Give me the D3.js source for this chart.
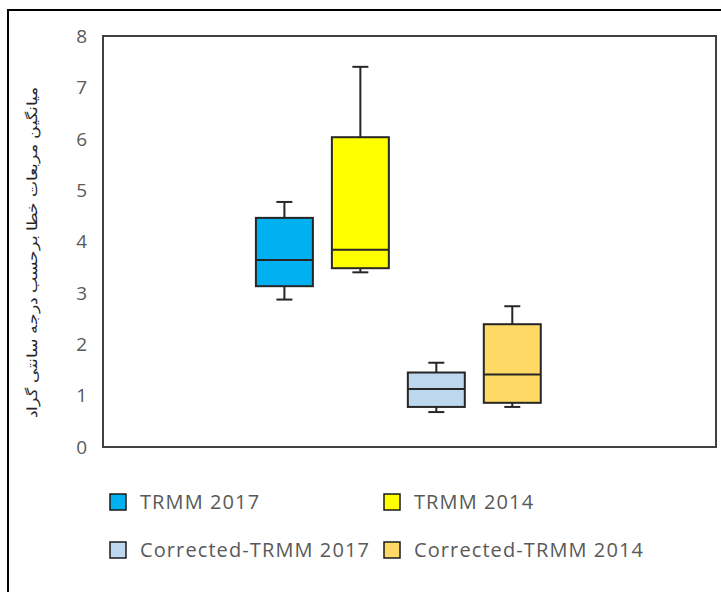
<!DOCTYPE html>
<html lang="fa">
<head>
<meta charset="utf-8">
<title>Box plot - TRMM</title>
<script src="https://d3js.org/d3.v7.min.js"></script>
<style>
  body { margin: 0; background: #fff; }
  text { font-family: "Open Sans", "Liberation Sans", sans-serif; }
</style>
</head>
<body>
<svg id="chart" width="721" height="592"></svg>
<script>
// data
var series = ["TRMM 2017", "TRMM 2014", "Corrected-TRMM 2017", "Corrected-TRMM 2014"];
var mins    = [2.87, 3.40, 0.68, 0.78];
var q1      = [3.13, 3.48, 0.78, 0.86];
var medians = [3.64, 3.84, 1.13, 1.41];
var q3      = [4.46, 6.03, 1.45, 2.39];
var maxs    = [4.77, 7.40, 1.64, 2.74];
var colors  = ["#00B0F0", "#FFFF00", "#BDD7EE", "#FFD966"];
var yTicks  = [0, 1, 2, 3, 4, 5, 6, 7, 8];
var yTitle  = "میانگین مربعات خطا برحسب درجه سانتی گراد";

var svg = d3.select("#chart");

// outer frame
svg.append("path")
  .attr("d", "M8,600 V10 H730")
  .attr("fill", "none")
  .attr("stroke", "#000")
  .attr("stroke-width", 2);

var plot = { left: 103, right: 716, top: 36, bottom: 447 };

var y = d3.scaleLinear().domain([0, 8]).range([plot.bottom, plot.top]);
var x = d3.scaleBand().domain(series)
  .range([plot.left, plot.right])
  .paddingInner(0.25)
  .paddingOuter(2.16)
  .align(0.466);

// plot area border
svg.append("rect")
  .attr("x", plot.left).attr("y", plot.top)
  .attr("width", plot.right - plot.left)
  .attr("height", plot.bottom - plot.top)
  .attr("fill", "none")
  .attr("stroke", "#404040")
  .attr("stroke-width", 2);

// y tick labels
svg.append("g").selectAll("text")
  .data(yTicks)
  .enter().append("text")
  .attr("x", 87)
  .attr("y", function(d) { return y(d); })
  .attr("dy", "0.36em")
  .attr("text-anchor", "end")
  .attr("font-size", 19)
  .attr("fill", "#595959")
  .text(function(d) { return d; });

// y title
svg.append("text")
  .attr("transform", "translate(37,252) rotate(-90)")
  .attr("text-anchor", "middle")
  .attr("font-family", "DejaVu Sans")
  .attr("font-size", 14)
  .attr("textLength", 332)
  .attr("lengthAdjust", "spacingAndGlyphs")
  .attr("fill", "#262626")
  .attr("direction", "rtl")
  .text(yTitle);

// boxes
var stroke = "#262626";
var box = svg.append("g").selectAll("g")
  .data(series)
  .enter().append("g");

box.each(function(s, i) {
  var g = d3.select(this);
  var x0 = x(s), bw = x.bandwidth(), cx = x0 + bw / 2, cap = 8;
  g.append("line")
    .attr("x1", cx).attr("x2", cx)
    .attr("y1", y(maxs[i])).attr("y2", y(q3[i]))
    .attr("stroke", stroke).attr("stroke-width", 2);
  g.append("line")
    .attr("x1", cx).attr("x2", cx)
    .attr("y1", y(q1[i])).attr("y2", y(mins[i]))
    .attr("stroke", stroke).attr("stroke-width", 2);
  g.append("line")
    .attr("x1", cx - cap).attr("x2", cx + cap)
    .attr("y1", y(maxs[i])).attr("y2", y(maxs[i]))
    .attr("stroke", stroke).attr("stroke-width", 2);
  g.append("line")
    .attr("x1", cx - cap).attr("x2", cx + cap)
    .attr("y1", y(mins[i])).attr("y2", y(mins[i]))
    .attr("stroke", stroke).attr("stroke-width", 2);
  g.append("rect")
    .attr("x", x0).attr("width", bw)
    .attr("y", y(q3[i])).attr("height", y(q1[i]) - y(q3[i]))
    .attr("fill", colors[i])
    .attr("stroke", stroke).attr("stroke-width", 2);
  g.append("line")
    .attr("x1", x0).attr("x2", x0 + bw)
    .attr("y1", y(medians[i])).attr("y2", y(medians[i]))
    .attr("stroke", stroke).attr("stroke-width", 2);
});

// legend
var legPos = [[110, 502], [384, 502], [110, 550], [384, 550]];
var leg = svg.append("g").selectAll("g")
  .data(series)
  .enter().append("g")
  .attr("transform", function(d, i) { return "translate(" + legPos[i][0] + "," + legPos[i][1] + ")"; });

leg.append("rect")
  .attr("x", 0).attr("y", -8)
  .attr("width", 16).attr("height", 16)
  .attr("fill", function(d, i) { return colors[i]; })
  .attr("stroke", "#1a1a1a")
  .attr("stroke-width", 1.5);

leg.append("text")
  .attr("x", 30)
  .attr("y", 0)
  .attr("dy", "0.36em")
  .attr("font-size", 20)
  .attr("letter-spacing", 1.1)
  .attr("fill", "#595959")
  .text(function(d) { return d; });
</script>
</body>
</html>
